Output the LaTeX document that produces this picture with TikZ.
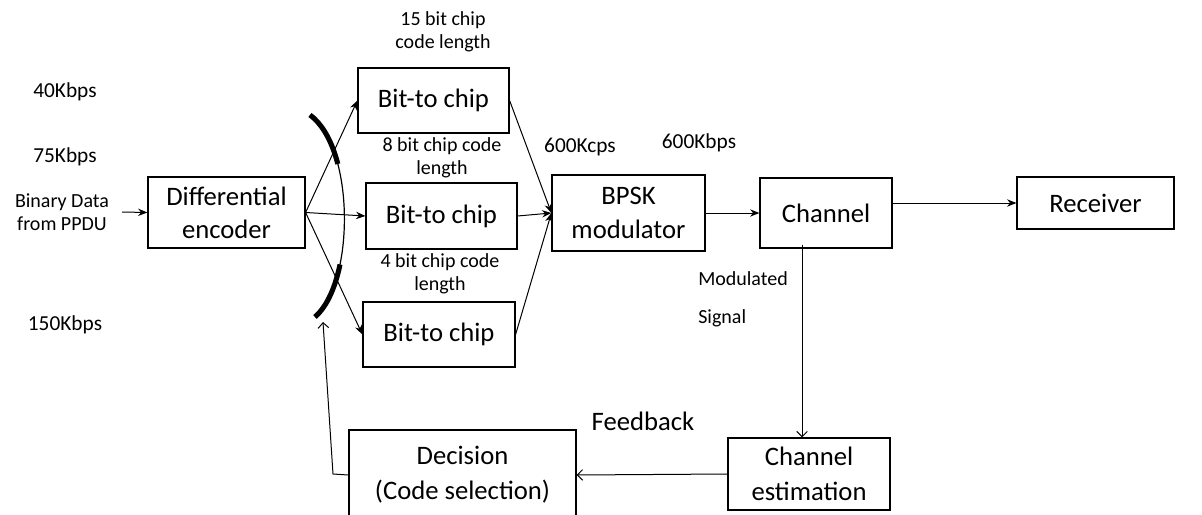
\documentclass[tikz,border=0pt]{standalone}
\usepackage{fontspec}
\setmainfont{Carlito}
\usepackage{tikz}
\usetikzlibrary{arrows.meta}

\begin{document}
\begin{tikzpicture}[x=0.75pt,y=0.75pt,yscale=-1,xscale=1,
        blk/.style={draw,line width=0.9pt,inner sep=0pt,align=center,font=\fontsize{20}{25}\selectfont},
        lbl/.style={inner sep=0.75pt,align=center,font=\fontsize{15}{17.5}\selectfont},
        rate/.style={lbl,font=\fontsize{16}{19}\selectfont},
        arr/.style={line width=0.75pt,-{Stealth[length=7pt,width=5.5pt]}},
        opn/.style={line width=0.75pt,-{Straight Barb[length=4pt,width=8pt]}}]
        \useasboundingbox (0,0) rectangle (1202,514);
        \clip (0,0) rectangle (1202,514);

        % blocks
        \draw (226.5,212.5) node [blk,minimum width=117.75pt,minimum height=53.25pt] (diff) {Differential\\encoder};
        \draw (433.5,100.5) node [blk,minimum width=113.25pt,minimum height=48.75pt] (chipa) {Bit-to chip};
        \draw (441.5,216) node [blk,minimum width=113.25pt,minimum height=49.5pt] (chipb) {Bit-to chip};
        \draw (439,334.5) node [blk,minimum width=114pt,minimum height=48.75pt] (chipc) {Bit-to chip};
        \draw (628.5,213) node [blk,minimum width=114.75pt,minimum height=57pt] (bpsk) {BPSK\\modulator};
        \draw (826,213) node [blk,minimum width=99pt,minimum height=52.5pt] (chan) {Channel};
        \draw (1095.5,203) node [blk,minimum width=117.75pt,minimum height=39pt] (recv) {Receiver};
        \draw (809,474) node [blk,minimum width=121.5pt,minimum height=54pt,font=\fontsize{20}{26}\selectfont] (est) {Channel\\estimation};
        \draw (462.5,475) node [blk,minimum width=170.25pt,minimum height=67.5pt,font=\fontsize{20}{26}\selectfont] (dec) {Decision\\(Code selection)};

        % labels
        \draw (65,92) node [rate] (ra) {40Kbps};
        \draw (65,157) node [rate] (rb) {75Kbps};
        \draw (65,325) node [rate] (rc) {150Kbps};
        \draw (62,212) node [lbl] (src) {Binary Data\\from PPDU};
        \draw (443,31.5) node [lbl] (la) {15 bit chip\\code length};
        \draw (442,157.5) node [lbl] (lb) {8 bit chip code\\length};
        \draw (440,274) node [lbl] (lc) {4 bit chip code\\length};
        \draw (580,147) node [rate] (kcps) {600Kcps};
        \draw (699,143) node [rate] (kbps) {600Kbps};
        \draw (697,299) node [lbl,anchor=west,align=left] (mod) {Modulated\\[11pt]Signal};
        \draw (643,421) node [lbl,font=\fontsize{20}{24}\selectfont] (fbl) {Feedback};

        % selector
        \draw [line width=0.9pt] (310,115) .. controls (355,148) and (355,282) .. (315,317) ;
        \draw [line width=3.8pt,dash pattern=on 43pt off 76pt on 45pt] (310,115) .. controls (355,148) and (355,282) .. (315,317) ;

        % connectors
        \draw [arr] ([xshift=9pt]src.east) -- (diff.west);
        \draw [arr] (diff.east) -- (chipa.west);
        \draw [arr] (diff.east) -- (chipb.west);
        \draw [arr] (diff.east) -- (chipc.west);
        \draw [arr] (chipa.east) -- (bpsk.west);
        \draw [arr] (chipb.east) -- (bpsk.west);
        \draw [arr] (chipc.east) -- (bpsk.west);
        \draw [arr] (bpsk.east) -- (chan.west);
        \draw [arr] (chan.east |- recv.west) -- (recv.west);
        \draw [opn] ([xshift=-18pt,yshift=-3pt]chan.south) -- ([xshift=-18pt]chan.south |- est.north);
        \draw [opn] (est.west) -- (dec.east);
        \coordinate (fbk) at (333,474);
        \coordinate (sel) at (323,322);
        \draw [opn] (dec.west) -- (fbk) -- (sel);
\end{tikzpicture}
\end{document}
